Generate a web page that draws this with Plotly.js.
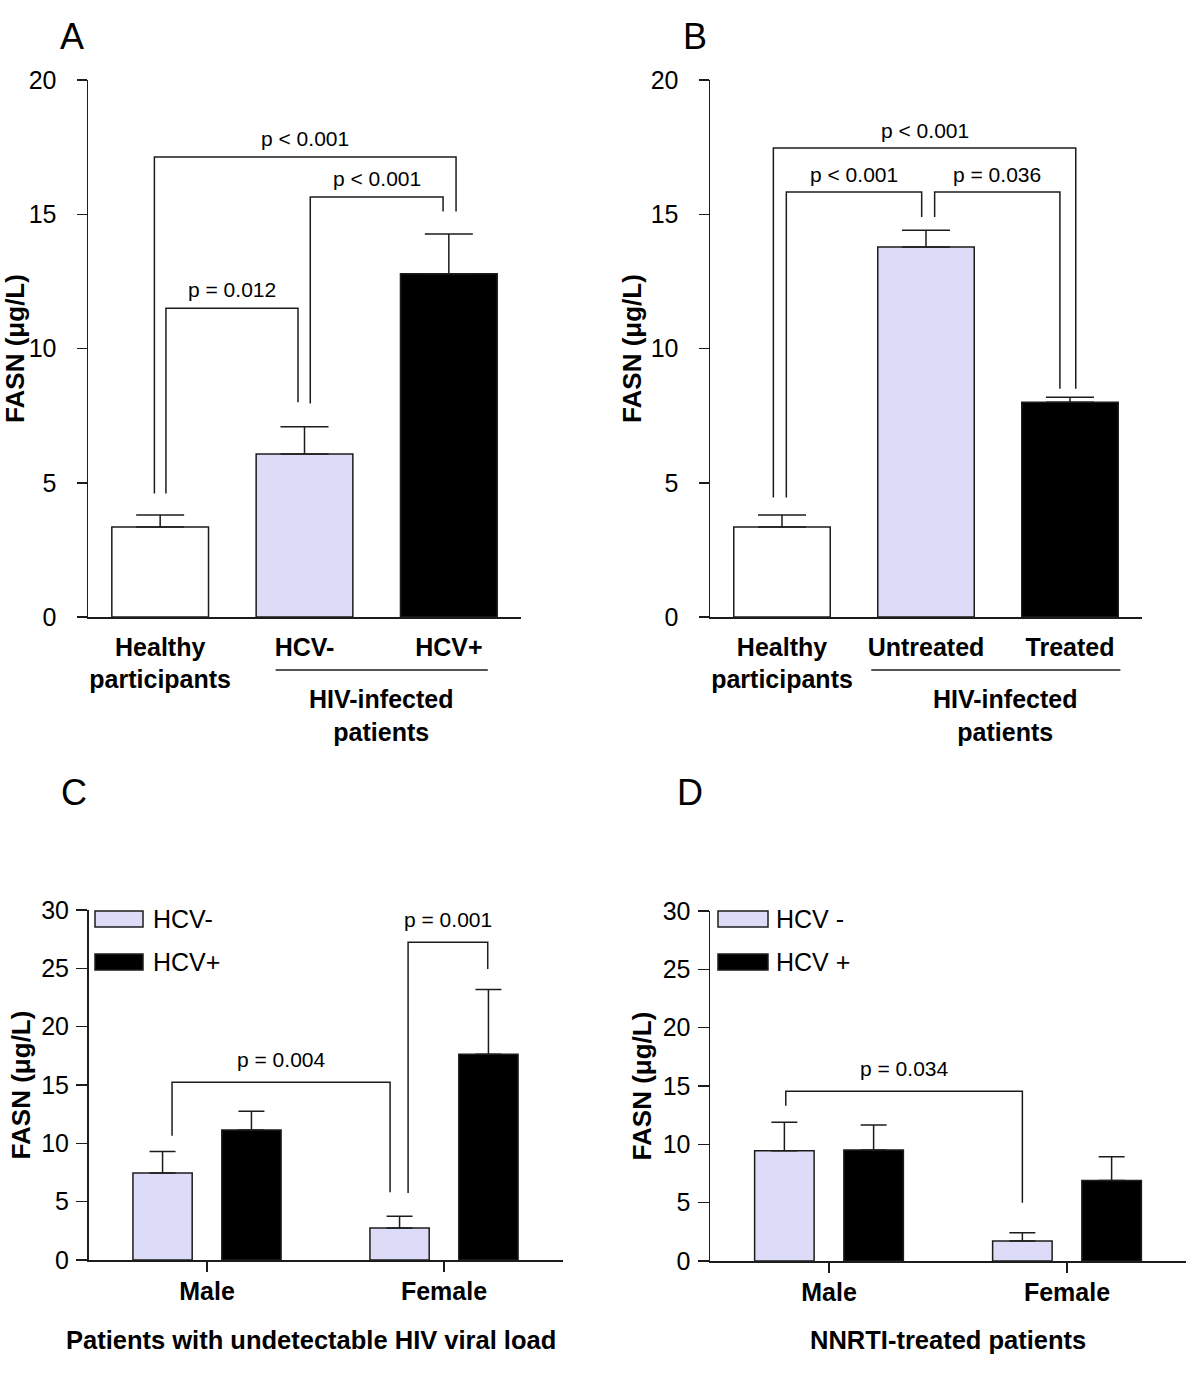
<!DOCTYPE html>
<html>
<head>
<meta charset="utf-8">
<script src="https://cdn.plot.ly/plotly-3.0.1.min.js"></script>
<style>html,body{margin:0;padding:0;background:#fff;}#chart{width:1200px;height:1374px;}</style>
</head>
<body>
<div id="chart"></div>
<script>
// ---------------- DATA ----------------
const catsA = ['Healthy<br>participants', 'HCV-', 'HCV+'];
const meanA = [3.35, 6.07, 12.78];
const errA  = [0.45, 1.02, 1.48];

const catsB = ['Healthy<br>participants', 'Untreated', 'Treated'];
const meanB = [3.35, 13.78, 8.0];
const errB  = [0.45, 0.62, 0.18];

const sexCats = ['Male', 'Female'];
const meanC_neg = [7.46, 2.74];
const errC_neg  = [1.85, 1.0];
const meanC_pos = [11.14, 17.64];
const errC_pos  = [1.6, 5.55];

const meanD_neg = [9.46, 1.71];
const errD_neg  = [2.43, 0.72];
const meanD_pos = [9.51, 6.89];
const errD_pos  = [2.15, 2.05];

const legendC = ['HCV-', 'HCV+'];
const legendD = ['HCV -', 'HCV +'];
const groupLabel = 'HIV-infected<br>patients';
const captionC = 'Patients with undetectable HIV viral load';
const captionD = 'NNRTI-treated patients';
const yTitle = 'FASN (\u03bcg/L)';

// significance brackets: [leftCat, rightCat, bracketY, leftLegBottom, rightLegBottom, label]
const bracketsA = [
  [0, 1, 11.5, 4.6, 8.0, 'p = 0.012'],
  [1, 2, 15.64, 7.95, 15.1, 'p < 0.001'],
  [0, 2, 17.13, 4.6, 15.1, 'p < 0.001']
];
const bracketsB = [
  [0, 2, 17.47, 4.45, 8.5, 'p < 0.001'],
  [0, 1, 15.83, 4.45, 14.9, 'p < 0.001'],
  [1, 2, 15.83, 14.9, 8.5, 'p = 0.036']
];
// grouped panels: [leftCat, leftSeries(0=neg,1=pos), rightCat, rightSeries, bracketY, leftBottom, rightBottom, label]
const bracketsC = [
  [0, 0, 1, 0, 15.23, 10.66, 5.8, 'p = 0.004'],
  [1, 0, 1, 1, 27.23, 5.74, 24.94, 'p = 0.001']
];
const bracketsD = [
  [0, 0, 1, 0, 14.54, 13.31, 5.0, 'p = 0.034']
];

// ---------------- STYLE ----------------
const FONT = 'Arial, "Liberation Sans", Helvetica, sans-serif';
const INK = '#1c1c1c';
const LAV = '#dcdcf9';
const BLACK = '#000000';
const LW = 1.5;
// small horizontal shifts of bracket legs (category units)
const legShiftA = [[0.04, -0.045], [0.04, -0.04], [-0.04, 0.05]];
const legShiftB = [[-0.06, 0.04], [0.03, -0.03], [0.06, -0.07]];
const legShiftC = [[0.04, -0.04], [0.036, -0.003]];
const legShiftD = [[0.006, 0.0]];
const GROUP_OFF = 0.1875, GBAR_W = 0.25;

const traces = [];
const annotations = [];
const shapes = [];

function barTrace(x, y, err, colors, xa, ya, width, errW, name, offset) {
  const t = {
    type: 'bar', x: x, y: y, xaxis: xa, yaxis: ya, width: width, name: name,
    marker: {color: colors, line: {color: INK, width: LW}},
    error_y: {type: 'data', symmetric: false, array: err, arrayminus: err.map(() => 0),
              color: INK, thickness: LW, width: errW},
    showlegend: false, hoverinfo: 'y'
  };
  if (offset !== undefined) t.offset = offset;
  return t;
}

const idxA = catsA.map((_, i) => i);
const idxB = catsB.map((_, i) => i);
const idxS = sexCats.map((_, i) => i);

traces.push(barTrace(idxA, meanA, errA, ['#ffffff', LAV, BLACK], 'x', 'y', 0.67, 24, 'A'));
traces.push(barTrace(idxB, meanB, errB, ['#ffffff', LAV, BLACK], 'x2', 'y2', 0.67, 24, 'B'));
traces.push(barTrace(idxS, meanC_neg, errC_neg, LAV, 'x3', 'y3', GBAR_W, 13, legendC[0], -GROUP_OFF - GBAR_W / 2));
traces.push(barTrace(idxS, meanC_pos, errC_pos, BLACK, 'x3', 'y3', GBAR_W, 13, legendC[1], GROUP_OFF - GBAR_W / 2));
traces.push(barTrace(idxS, meanD_neg, errD_neg, LAV, 'x4', 'y4', GBAR_W, 13, legendD[0], -GROUP_OFF - GBAR_W / 2));
traces.push(barTrace(idxS, meanD_pos, errD_pos, BLACK, 'x4', 'y4', GBAR_W, 13, legendD[1], GROUP_OFF - GBAR_W / 2));

function addBracket(xl, xr, y, yl, yr, label, xa, ya, yshift) {
  traces.push({
    type: 'scatter', mode: 'lines', x: [xl, xl, xr, xr], y: [yl, y, y, yr],
    xaxis: xa, yaxis: ya, line: {color: INK, width: LW}, showlegend: false, hoverinfo: 'skip'
  });
  annotations.push({
    xref: xa, yref: ya, x: (xl + xr) / 2, y: y, text: label, showarrow: false,
    yanchor: 'middle', yshift: yshift, font: {family: FONT, size: 21, color: '#000'}
  });
}
bracketsA.forEach((b, i) => addBracket(b[0] + legShiftA[i][0], b[1] + legShiftA[i][1], b[2], b[3], b[4], b[5], 'x', 'y', 19));
bracketsB.forEach((b, i) => addBracket(b[0] + legShiftB[i][0], b[1] + legShiftB[i][1], b[2], b[3], b[4], b[5], 'x2', 'y2', 17));
const sOff = s => (s === 0 ? -GROUP_OFF : GROUP_OFF);
bracketsC.forEach((b, i) => addBracket(b[0] + sOff(b[1]) + legShiftC[i][0], b[2] + sOff(b[3]) + legShiftC[i][1], b[4], b[5], b[6], b[7], 'x3', 'y3', 23));
bracketsD.forEach((b, i) => addBracket(b[0] + sOff(b[1]) + legShiftD[i][0], b[2] + sOff(b[3]) + legShiftD[i][1], b[4], b[5], b[6], b[7], 'x4', 'y4', 23));

// ---------------- AXES ----------------
const H = 1374, W = 1200;
const py = p => 1 - p / H;
const px = p => p / W;

function yAxis(dom, xa, range, standoffLbl, ticklen, titleStandoff) {
  return {
    domain: dom, anchor: xa, range: range, dtick: 5, tick0: 0,
    showline: true, linecolor: INK, linewidth: LW, ticks: 'outside', ticklen: ticklen, tickwidth: LW, tickcolor: INK,
    showgrid: false, zeroline: false, ticklabelstandoff: standoffLbl,
    tickfont: {family: FONT, size: 25, color: '#000'},
    title: {text: yTitle, font: {family: FONT, size: 26, color: '#000', weight: 'bold'}, standoff: titleStandoff},
    fixedrange: true
  };
}
function xAxis(dom, ya, range, vals, text, ticks, standoffLbl) {
  return {
    domain: dom, anchor: ya, range: range, tickvals: vals, ticktext: text,
    showline: true, linecolor: INK, linewidth: LW, ticks: ticks, ticklen: 10, tickwidth: LW, tickcolor: INK,
    showgrid: false, zeroline: false, ticklabelstandoff: standoffLbl,
    tickfont: {family: FONT, size: 25, color: '#000', weight: 'bold'}, fixedrange: true
  };
}

const layout = {
  width: W, height: H, autosize: false,
  margin: {l: 0, r: 0, t: 0, b: 0},
  paper_bgcolor: '#fff', plot_bgcolor: 'rgba(0,0,0,0)',
  showlegend: false,
  font: {family: FONT, color: '#000'},
  xaxis:  xAxis([px(88), px(521)], 'y', [-0.5, 2.5], idxA, catsA, '', 7),
  yaxis:  yAxis([py(617), py(80)], 'x', [0, 20], 15, 10, 1),
  xaxis2: xAxis([px(710), px(1142)], 'y2', [-0.5, 2.5], idxB, catsB, '', 7),
  yaxis2: yAxis([py(617), py(80)], 'x2', [0, 20], 15, 10, 1),
  xaxis3: xAxis([px(88.5), px(562.5)], 'y3', [-0.5, 1.5], idxS, sexCats, 'outside', -2),
  yaxis3: yAxis([py(1260), py(910)], 'x3', [0, 30], 2, 11, 3),
  xaxis4: xAxis([px(710), px(1186)], 'y4', [-0.5, 1.5], idxS, sexCats, 'outside', -2),
  yaxis4: yAxis([py(1261), py(911)], 'x4', [0, 30], 2, 11, 3),
  annotations: annotations,
  shapes: shapes
};

// panel letters
[['A', 72, 37], ['B', 695, 37], ['C', 74, 792], ['D', 690, 792]].forEach(l => {
  annotations.push({xref: 'paper', yref: 'paper', x: px(l[1]), y: py(l[2]), text: l[0], showarrow: false,
    xanchor: 'center', yanchor: 'middle', font: {family: FONT, size: 36, color: '#000'}});
});

// group label lines and text (A, B)
[['x', 0.8, 2.27, 1.53], ['x2', 0.62, 2.35, 1.55]].forEach(g => {
  shapes.push({type: 'line', xref: g[0], yref: 'paper', x0: g[1], x1: g[2], y0: py(670), y1: py(670),
    line: {color: INK, width: LW}});
  annotations.push({xref: g[0], yref: 'paper', x: g[3], y: py(683), yanchor: 'top', text: '<b>' + groupLabel + '</b>',
    showarrow: false, font: {family: FONT, size: 25, color: '#000'}});
});

// captions (C, D)
annotations.push({xref: 'x3', yref: 'paper', x: 0.44, y: py(1340), text: '<b>' + captionC + '</b>', showarrow: false,
  yanchor: 'middle', font: {family: FONT, size: 25.5, color: '#000'}});
annotations.push({xref: 'x4', yref: 'paper', x: 0.5, y: py(1340), text: '<b>' + captionD + '</b>', showarrow: false,
  yanchor: 'middle', font: {family: FONT, size: 25.5, color: '#000'}});

// legends (C, D) drawn as swatches + text
function addLegend(x0, x1, textX, names, colors) {
  [[911, 927, 919], [954, 970, 962]].forEach((r, i) => {
    shapes.push({type: 'rect', xref: 'paper', yref: 'paper', x0: px(x0), x1: px(x1), y0: py(r[1]), y1: py(r[0]),
      fillcolor: colors[i], line: {color: INK, width: LW}});
    annotations.push({xref: 'paper', yref: 'paper', x: px(textX), y: py(r[2]), xanchor: 'left', yanchor: 'middle',
      text: names[i], showarrow: false, font: {family: FONT, size: 25, color: '#000'}});
  });
}
addLegend(95, 143, 151, legendC, [LAV, BLACK]);
addLegend(718, 768, 774, legendD, [LAV, BLACK]);

Plotly.newPlot('chart', traces, layout, {staticPlot: true, displayModeBar: false});
</script>
</body>
</html>
